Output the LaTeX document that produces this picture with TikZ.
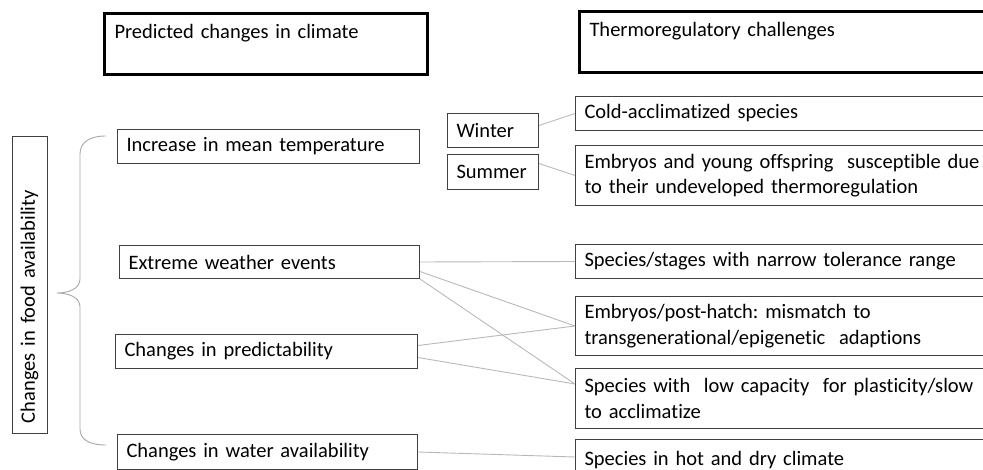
\documentclass[tikz,border=0pt]{standalone}
\usepackage{fontspec}
\setmainfont{Carlito}[Ligatures={NoCommon}]
\frenchspacing
\definecolor{boxgray}{HTML}{404040}
\definecolor{linegray}{HTML}{B8B8B8}
\definecolor{bracegray}{HTML}{A8A8A8}
\begin{document}
\begin{tikzpicture}[x=1pt,y=-1pt,
  txt/.style={font=\fontsize{20.5}{25.5}\selectfont, text=black},
  box/.style={txt, draw=boxgray, line width=1pt, rectangle, anchor=north west,
    inner xsep=9pt, inner ysep=0pt, align=left},
  head/.style={txt, draw=black, line width=3pt, rectangle, anchor=north west,
    inner xsep=10pt, inner ysep=0pt, align=left},
  conn/.style={draw=linegray, line width=0.9pt}]
\useasboundingbox (0,0) rectangle (983,470);
\clip (0,0) rectangle (983,470);
% headers
\node[head, text width=303pt, text height=25.5pt, text depth=35.5pt] (hL) at (103,12) {Predicted changes in climate};
\node[head, text width=402pt, text height=25pt, text depth=36pt] (hR) at (578,10) {Thermoregulatory challenges};
% left column
\node[box, text width=284pt, minimum height=34pt] (inc) at (117,129) {Increase in mean temperature};
\node[box, text width=282pt, minimum height=33pt] (ext) at (119,245) {Extreme weather events};
\node[box, text width=284pt, minimum height=34pt] (pred) at (115,334) {Changes in predictability};
\node[box, text width=282pt, minimum height=35pt] (water) at (117,434) {Changes in water availability};
% vertical
\node[box, anchor=center, rotate=90, text width=276pt, inner xsep=10pt, minimum height=35pt] (food) at (29.5,285) {Changes in food availability};
% winter / summer
\node[box, inner xsep=9pt, text width=73pt, minimum height=34pt] (winter) at (447,113) {Winter};
\node[box, inner xsep=9pt, text width=73pt, minimum height=35pt] (summer) at (447,154) {Summer};
% right column
\node[box, text width=407pt, minimum height=34pt] (cold) at (575,96) {Cold-acclimatized species};
\node[box, text width=407pt, minimum height=60pt] (emb) at (575,145) {Embryos and young offspring\ \ susceptible due\\to their undeveloped thermoregulation};
\node[box, text width=407pt, minimum height=34pt] (narrow) at (575,244) {Species/stages with narrow tolerance range};
\node[box, text width=407pt, minimum height=59pt] (post) at (575,296) {Embryos/post-hatch: mismatch to\\transgenerational/epigenetic\ \ adaptions};
\node[box, text width=407pt, minimum height=60pt] (low) at (575,368) {Species with\ \ low capacity\ \ for plasticity/slow\\to acclimatize};
\node[box, text width=407pt, text height=26pt, text depth=30pt] (hot) at (575,439) {Species in hot and dry climate};
% connectors
\draw[conn] ([yshift=5pt]winter.east) -- (cold.west);
\draw[conn] ([yshift=8.5pt]summer.east) -- (emb.west);
\draw[conn] (ext.east) -- (narrow.west);
\draw[conn] ([yshift=-9.5pt]ext.east) -- (post.west);
\draw[conn] (ext.south east) -- ([yshift=14.5pt]low.west);
\draw[conn] ([yshift=6pt]pred.east) -- (post.west);
\draw[conn] ([yshift=-6pt]pred.east) -- ([yshift=14.5pt]low.west);
\draw[conn] (water.east) -- ([yshift=-18pt]hot.north west);
% brace
\coordinate (bTop) at (106,136);
\coordinate (bTip) at (57,293);
\coordinate (bBot) at (106,445);
\draw[bracegray, line width=0.9pt] (bTop) .. controls (90,136) and (80,142) .. (80,154)
  -- (80,279) .. controls (80,289) and (68,293) .. (bTip)
  .. controls (68,293) and (80,297) .. (80,307)
  -- (80,429) .. controls (80,440) and (90,445) .. (bBot);
\end{tikzpicture}
\end{document}
